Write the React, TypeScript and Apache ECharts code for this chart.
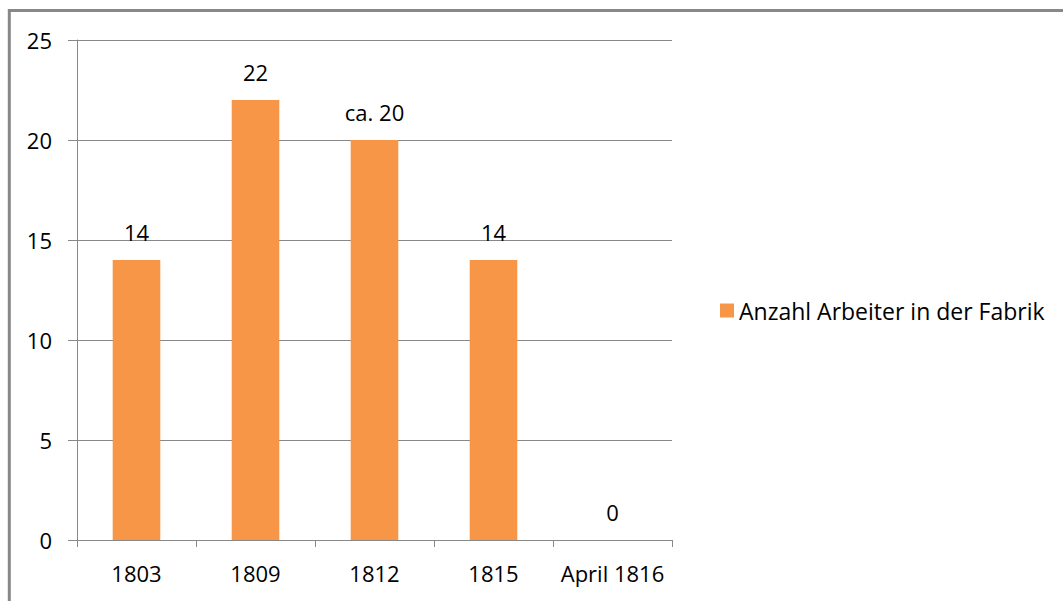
import React, { useEffect, useRef } from "react";
import * as echarts from "echarts";

const categories = ["1803", "1809", "1812", "1815", "April 1816"];
const values = [14, 22, 20, 14, 0];
const labelTexts = ["14", "22", "ca. 20", "14", "0"];
const seriesName = "Anzahl Arbeiter in der Fabrik";
const yTicks = [0, 5, 10, 15, 20, 25];

const FONT = "'Open Sans', sans-serif";

export default function App() {
  const ref = useRef<HTMLDivElement>(null);
  useEffect(() => {
    if (!ref.current) return;
    const chart = echarts.init(ref.current, null, { renderer: "svg" });
    chart.setOption({
      animation: false,
      backgroundColor: "#ffffff",
      textStyle: { fontFamily: FONT },
      graphic: [
        {
          type: "rect",
          shape: { x: 9.3, y: 10.5, width: 1200, height: 800 },
          style: { fill: "none", stroke: "#888888", lineWidth: 3 },
          silent: true,
        },
      ],
      grid: { left: 77, right: 391, top: 40, bottom: 61, containLabel: false },
      legend: {
        orient: "vertical",
        left: 715,
        top: 294,
        itemWidth: 14,
        itemHeight: 14,
        itemGap: 8,
        icon: "rect",
        textStyle: { fontSize: 23, color: "#000", fontFamily: FONT },
        data: [seriesName],
      },
      xAxis: {
        type: "category",
        data: categories,
        axisLine: { lineStyle: { color: "#888888", width: 1 } },
        axisTick: { show: true, length: 7, lineStyle: { color: "#888888" } },
        axisLabel: { fontSize: 22, color: "#000", margin: 22, interval: 0, fontFamily: FONT },
      },
      yAxis: {
        type: "value",
        min: yTicks[0],
        max: yTicks[yTicks.length - 1],
        interval: 5,
        axisLine: { show: true, lineStyle: { color: "#888888", width: 1 } },
        axisTick: { show: true, length: 9, lineStyle: { color: "#888888" } },
        splitLine: { show: true, lineStyle: { color: "#888888", width: 1 } },
        axisLabel: { fontSize: 22, color: "#000", margin: 25, fontFamily: FONT },
      },
      series: [
        {
          name: seriesName,
          type: "bar",
          data: values,
          barWidth: "40%",
          itemStyle: { color: "#F79646" },
          label: {
            show: true,
            position: "top",
            distance: 17,
            fontSize: 22,
            color: "#000",
            fontFamily: FONT,
            formatter: (p: any) => labelTexts[p.dataIndex],
          },
        },
      ],
    });
    return () => chart.dispose();
  }, []);
  return (
    <div
      ref={ref}
      style={{ position: "fixed", left: 0, top: 0, width: 1063, height: 601 }}
    />
  );
}
